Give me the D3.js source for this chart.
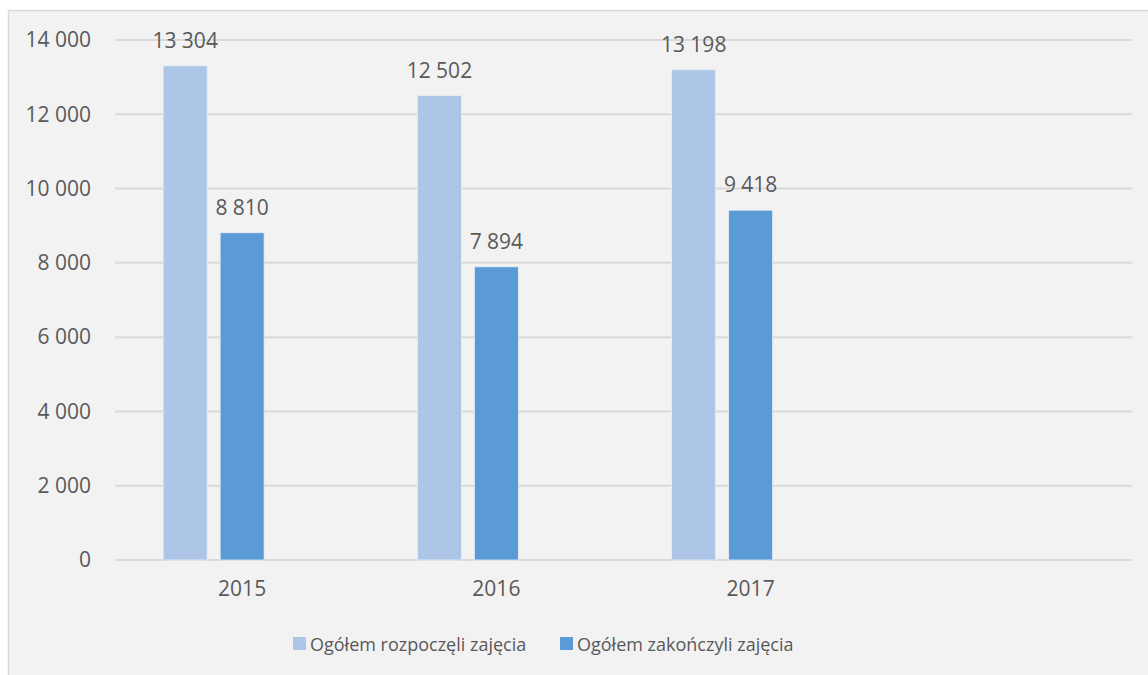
<!DOCTYPE html>
<html>
<head>
<meta charset="utf-8">
<script src="https://cdn.jsdelivr.net/npm/d3@7"></script>
<style>
  body { margin: 0; background: #fff; }
  svg { display: block; }
  text { font-family: "Open Sans", sans-serif; fill: #595959; }
</style>
</head>
<body>
<svg id="chart"></svg>
<script>
const categories = ["2015", "2016", "2017", ""]
const seriesNames = ["Ogółem rozpoczęli zajęcia", "Ogółem zakończyli zajęcia"]
const started = [13304, 12502, 13198, null]
const finished = [8810, 7894, 9418, null]
const yTickValues = [0, 2000, 4000, 6000, 8000, 10000, 12000, 14000]
const colors = ["#adc6e7", "#5b9bd5"]

const W = 1148, H = 675
const svg = d3.select("#chart").attr("width", W).attr("height", H)

// chart area panel
svg.append("rect")
  .attr("x", 8.5).attr("y", 10.5)
  .attr("width", W + 20).attr("height", H + 20)
  .attr("fill", "#f2f2f2")
  .attr("stroke", "#d9d9d9")
  .attr("stroke-width", 1.5)

const plot = { left: 115, right: 1132, top: 40, bottom: 560 }

const fmt = d3.formatLocale({ decimal: ",", thousands: " ", grouping: [3], currency: ["", " zł"] }).format(",d")

const x0 = d3.scaleBand()
  .domain(categories)
  .range([plot.left, plot.right])

// three slots per group, the last one stays empty (as in the source chart)
const x1 = d3.scaleBand()
  .domain([0, 1, 2])
  .range([0, x0.bandwidth()])
  .paddingInner(0.228)
  .paddingOuter(0.845)

const y = d3.scaleLinear()
  .domain([0, 14000])
  .range([plot.bottom, plot.top])

// gridlines
svg.append("g")
  .selectAll("line")
  .data(yTickValues)
  .enter().append("line")
  .attr("x1", plot.left).attr("x2", plot.right)
  .attr("y1", d => y(d)).attr("y2", d => y(d))
  .attr("stroke", "#d9d9d9")
  .attr("stroke-width", 2)

// y axis labels
const yAxis = svg.append("g")
  .attr("transform", `translate(${plot.left - 24},0)`)
  .call(d3.axisLeft(y).tickValues(yTickValues).tickFormat(fmt).tickSize(0).tickPadding(0))
yAxis.select(".domain").remove()
yAxis.selectAll("text")
  .attr("font-size", 21)
  .attr("font-family", "Open Sans")
  .attr("fill", "#595959")

// x axis labels
const xAxis = svg.append("g")
  .attr("transform", `translate(0,${plot.bottom + 21})`)
  .call(d3.axisBottom(x0).tickSize(0).tickPadding(0))
xAxis.select(".domain").remove()
xAxis.selectAll("text")
  .attr("font-size", 21)
  .attr("font-family", "Open Sans")
  .attr("fill", "#595959")

const rows = categories.map((c, i) => ({ cat: c, values: [started[i], finished[i]] }))

const groups = svg.append("g")
  .selectAll("g")
  .data(rows)
  .enter().append("g")
  .attr("transform", d => `translate(${x0(d.cat)},0)`)

const bars = groups.selectAll("g.bar")
  .data(d => d.values.map((v, k) => ({ k, v })).filter(e => e.v != null))
  .enter().append("g")
  .attr("class", "bar")

bars.append("rect")
  .attr("x", d => x1(d.k))
  .attr("width", x1.bandwidth())
  .attr("y", d => y(d.v))
  .attr("height", d => plot.bottom - y(d.v))
  .attr("fill", d => colors[d.k])
  .attr("stroke", "#e8eef7")
  .attr("stroke-width", 0.8)

bars.append("text")
  .attr("x", d => x1(d.k) + x1.bandwidth() / 2)
  .attr("y", d => y(d.v) - 18)
  .attr("text-anchor", "middle")
  .attr("font-size", 21)
  .text(d => fmt(d.v))

// legend
const legend = svg.append("g")
  .selectAll("g")
  .data(seriesNames)
  .enter().append("g")
  .attr("transform", (d, i) => `translate(${[293, 560][i]},637)`)

legend.append("rect")
  .attr("width", 13).attr("height", 13)
  .attr("fill", (d, i) => colors[i])

legend.append("text")
  .attr("x", 17)
  .attr("y", 14)
  .attr("font-size", 18)
  .text(d => d)
</script>
</body>
</html>
